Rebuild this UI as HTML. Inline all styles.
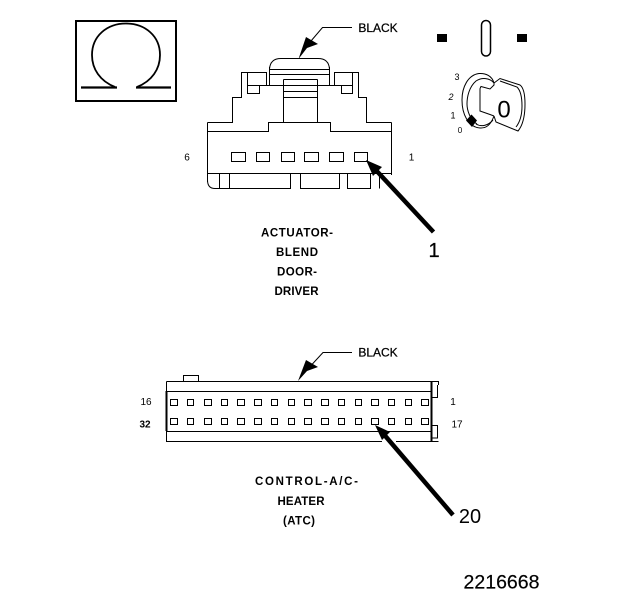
<!DOCTYPE html>
<html><head><meta charset="utf-8"><style>
html,body{margin:0;padding:0;background:#fff;width:624px;height:600px;overflow:hidden}
svg{display:block}
text{font-family:"Liberation Sans",sans-serif;fill:#000}
.b{font-weight:bold;font-size:11.500px;text-anchor:middle}
.s{font-size:9px;text-anchor:middle}
</style></head><body>
<svg width="624" height="600" viewBox="0 0 624 600" xmlns="http://www.w3.org/2000/svg">
<g fill="none" stroke="#000" stroke-width="1">
<!-- omega -->
<rect x="76" y="21" width="100" height="80" stroke-width="2"/>
<path d="M115 87 C100 81 92 69 92 55 C92 36 107 23.500 126 23.500 C145 23.500 160 36 160 55 C160 69 152 81 137 87" stroke-width="1.800"/>
<path d="M81 87.500H117M136 87.500H171" stroke-width="2.200"/>

<!-- upper connector -->
<g shape-rendering="crispEdges">
<path d="M207.500 122.500V182M207.500 122.500H232.500V97.500H241.500V72.500H247.500V93.500H259.500V85.500H269.500"/>
<path d="M247.500 72.500H266.500V85.500M247.500 85.500H259.500"/>
<path d="M391.500 122.500V175M391.500 122.500H366.500V97.500H358.500V72.500H352.500V93.500H341.500V85.500H330.500"/>
<path d="M352.500 72.500H334.500V85.500M352.500 85.500H341.500"/>
<path d="M269.500 69.500H329.500M270 74.500H329M269.500 67V85.500M329.500 67V85.500"/>
<path d="M283.500 79.500H317.500M283.500 79.500V122.500M317.500 79.500V122.500M283.500 85.500H317.500M283.500 91.500H317.500M283.500 97.500H317.500"/>
<path d="M269.500 85.500H330.500"/>
<path d="M207.500 131.500H268.500V122.500H330.500V131.500H391.500"/>
<path d="M207.500 173.500H391.500"/>
<path d="M219.500 173.500V188.500M229.500 173.500V188.500H290.500V173.500M300.500 173.500V188.500H339.500V173.500M347.500 173.500V188.500H370.500V173.500M379.500 173.500V188.500"/>
<path d="M231.500 152.500H245.500V161.500H231.500ZM256.500 152.500H269.500V161.500H256.500ZM281.500 152.500H294.500V161.500H281.500ZM304.500 152.500H318.500V161.500H304.500ZM329.500 152.500H343.500V161.500H329.500ZM354.500 152.500H367.500V161.500H354.500Z"/>
</g>
<path d="M269.500 69 C270 62 274 58.500 281 58.500H318C325 58.500 329 62 329.500 69"/>
<path d="M207.500 180C207.500 186 210 188.500 215 188.500H229"/>

<!-- leader upper -->
<path d="M352 27.500H322.500L305 48"/>
<!-- lower connector -->
<g shape-rendering="crispEdges">
<path d="M166.500 381.500H431.500M166.500 391.500H431.500M166.500 431.500H431.500M166.500 381.500V441.500H382M396 441.500H431.500"/>
<path d="M166.500 391V431" stroke-width="2"/>
<path d="M431.500 381V441" stroke-width="2"/>
<path d="M431.500 381.500H438.500V385M437.500 385V397.500H431.500M431.500 425.500H437.500V438H431.500M431.500 441.500H438.500"/>
<path d="M183.500 381V375.500H198.500V381"/>
<path d="M170.500 399.500h7v6h-7ZM187.500 399.500h6v6h-6ZM204.500 399.500h7v6h-7ZM221.500 399.500h6v6h-6ZM237.500 399.500h7v6h-7ZM254.500 399.500h7v6h-7ZM271.500 399.500h6v6h-6ZM288.500 399.500h6v6h-6ZM304.500 399.500h7v6h-7ZM321.500 399.500h7v6h-7ZM338.500 399.500h6v6h-6ZM355.500 399.500h6v6h-6ZM371.500 399.500h7v6h-7ZM388.500 399.500h6v6h-6ZM405.500 399.500h6v6h-6ZM421.500 399.500h7v6h-7Z"/>
<path d="M170.500 418.500h7v6h-7ZM187.500 418.500h6v6h-6ZM204.500 418.500h7v6h-7ZM221.500 418.500h6v6h-6ZM237.500 418.500h7v6h-7ZM254.500 418.500h7v6h-7ZM271.500 418.500h6v6h-6ZM288.500 418.500h6v6h-6ZM304.500 418.500h7v6h-7ZM321.500 418.500h7v6h-7ZM338.500 418.500h6v6h-6ZM355.500 418.500h6v6h-6ZM371.500 418.500h7v6h-7ZM388.500 418.500h6v6h-6ZM405.500 418.500h6v6h-6ZM421.500 418.500h7v6h-7Z"/>
</g>
<path d="M352 352.500H323L305 372"/>

<!-- key pictogram -->
<rect x="481.500" y="20.500" width="9" height="35.500" rx="4.500" stroke-width="1.500"/>
<path d="M494 83C492 76 486 73 479 73.500C468 75 462 87 462 100C462 114 468 127 480 128C487 128.500 491 124 494 116"/>
<path d="M494 83C490 78 482 77 476 81C469 87 467 97 467 104C467 110 470 120 477 124"/>
<path d="M480 88.500L481 86.500L490 89L494 85L494 83M480 88.500V111L490 114.500L494 116"/>
<path d="M494 83L500 78.500L520 85C524 88 525 95 525 104C525 115 523 125 518 131L496 122L494 116"/>
<path d="M500 81L517 87C521 91 522 98 522 106C522 115 520 122 516 127"/>
<path d="M476 124C481 127 488 126 493 120"/>
</g>

<!-- arrows -->
<g fill="#000" stroke="none">
<path d="M298.500 59L306 37L318 44L307 48Z"/>
<path d="M298 381L306 360L318 367L307 371Z"/>
<path d="M366 160L382 167L373 176Z"/>
<path d="M375 425L390 432L382 440Z"/>
<rect x="437" y="34" width="10" height="8"/>
<rect x="517" y="34" width="10" height="8"/>
<path d="M471.500 114.500L477 120.500L472 127L466 120.500Z"/>
</g>
<path d="M373 167L433.500 232" stroke="#000" stroke-width="4.500" fill="none"/>
<path d="M381 431L453 515" stroke="#000" stroke-width="4.500" fill="none"/>

<!-- labels -->
<text x="378" y="32" class="b" style="font-weight:normal;font-size:12px;stroke:#000;stroke-width:.25">BLACK</text>
<text x="378" y="356.500" class="b" style="font-weight:normal;font-size:12px;stroke:#000;stroke-width:.25">BLACK</text>
<text x="187" y="160.500" class="s" style="font-size:10px">6</text>
<text x="411.500" y="160.500" class="s" style="font-size:10px">1</text>
<text x="146" y="405" class="s" style="font-size:10px">16</text>
<text x="145" y="427.500" class="s" style="font-size:10px;font-weight:bold">32</text>
<text x="453" y="405" class="s" style="font-size:10px">1</text>
<text x="457" y="427.500" class="s" style="font-size:10px">17</text>
<text x="457" y="80" class="s">3</text>
<text x="451" y="100" class="s" style="font-style:italic">2</text>
<text x="453" y="118.500" class="s">1</text>
<text x="460" y="133" class="s" style="font-size:8px">0</text>
<text x="504" y="117.500" style="font-size:24px" text-anchor="middle">0</text>
<text x="297" y="236.500" class="b" textLength="72">ACTUATOR-</text>
<text x="297" y="256" class="b" textLength="42">BLEND</text>
<text x="297" y="275.500" class="b" textLength="40">DOOR-</text>
<text x="296.500" y="295" class="b" textLength="44">DRIVER</text>
<text x="306.500" y="485" class="b" textLength="103">CONTROL-A/C-</text>
<text x="301" y="505" class="b" textLength="47">HEATER</text>
<text x="299" y="524.500" class="b" textLength="32">(ATC)</text>
<text x="434" y="257" text-anchor="middle" style="font-size:20px;stroke:#000;stroke-width:.3">1</text>
<text x="470" y="523" text-anchor="middle" style="font-size:20px">20</text>
<text x="501.500" y="588.500" text-anchor="middle" style="font-size:19.500px;stroke:#000;stroke-width:.2">2216668</text>
</svg>
</body></html>
